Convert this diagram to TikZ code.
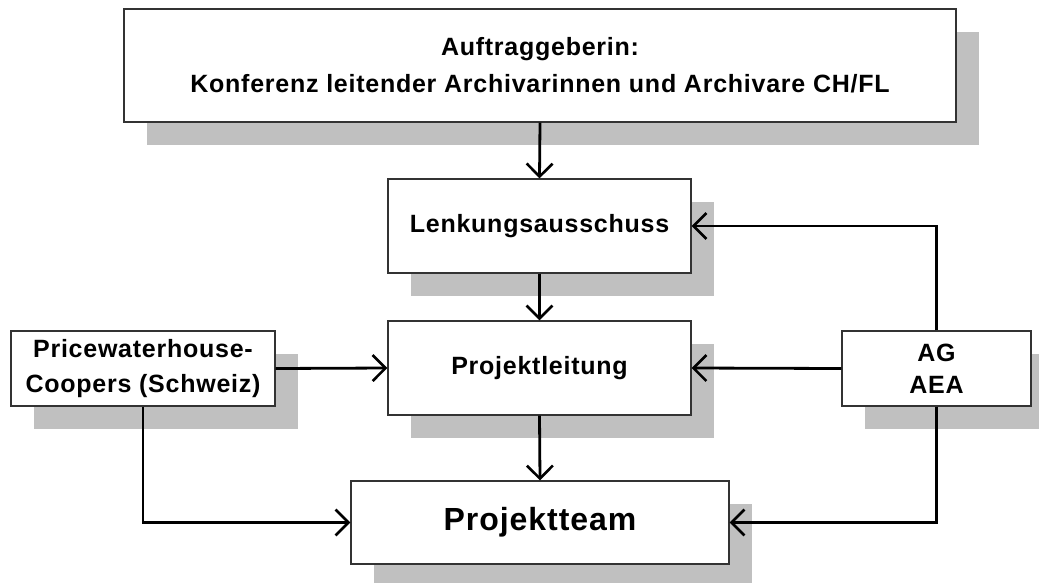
\documentclass[tikz,border=0pt]{standalone}
\usepackage{fontspec}
\setmainfont{Liberation Sans}[LetterSpace=3]
\usetikzlibrary{arrows.meta,shadows}
\definecolor{shadowgray}{HTML}{C0C0C0}
\tikzset{
  box/.style={draw=black!80, line width=1.2pt, fill=white, rectangle, inner sep=0pt,
    align=center, font=\fontsize{25}{35}\selectfont\bfseries,
    drop shadow={shadow xshift=22.5pt, shadow yshift=-22.5pt, fill=shadowgray, opacity=1}},
  conn/.style={line width=2.8pt, -{Straight Barb[length=13pt,width=26pt,line width=2.6pt]}},
}
\begin{document}
\begin{tikzpicture}[x=1pt,y=-1pt]
\useasboundingbox (0,0) rectangle (1039,582);
\clip (0,0) rectangle (1039,582);
\node[box, minimum width=832pt, minimum height=113pt, font=\fontsize{25}{37}\selectfont\bfseries] (top) at (540,65.5)
  {Auftraggeberin:\\Konferenz leitender Archivarinnen und Archivare CH/FL};
\node[box, minimum width=303pt, minimum height=94pt] (lenk) at (539.5,226) {Lenkungsausschuss};
\node[box, minimum width=303pt, minimum height=94pt] (proj) at (539.5,368) {Projektleitung};
\node[box, minimum width=264pt, minimum height=75pt] (pwc) at (143,368.5) {Pricewaterhouse-\\Coopers (Schweiz)};
\node[box, minimum width=189pt, minimum height=75pt, font=\fontsize{25}{32}\selectfont\bfseries] (ag) at (936.5,368.5) {AG\\AEA};
\node[box, minimum width=378pt, minimum height=83pt, font=\fontsize{32}{36}\selectfont\bfseries] (team) at (540,522.5) {Projektteam};
\draw[conn] (top.south) -- (lenk.north);
\draw[conn] (lenk.south) -- (proj.north);
\draw[conn] (proj.south) -- (team.north);
\draw[conn] (pwc.east) -- (proj.west);
\draw[conn] (ag.west) -- (proj.east);
\draw[conn] (ag.north) |- (lenk.east);
\draw[conn] (ag.south) |- (team.east);
\draw[conn] (pwc.south) |- (team.west);
\end{tikzpicture}
\end{document}
